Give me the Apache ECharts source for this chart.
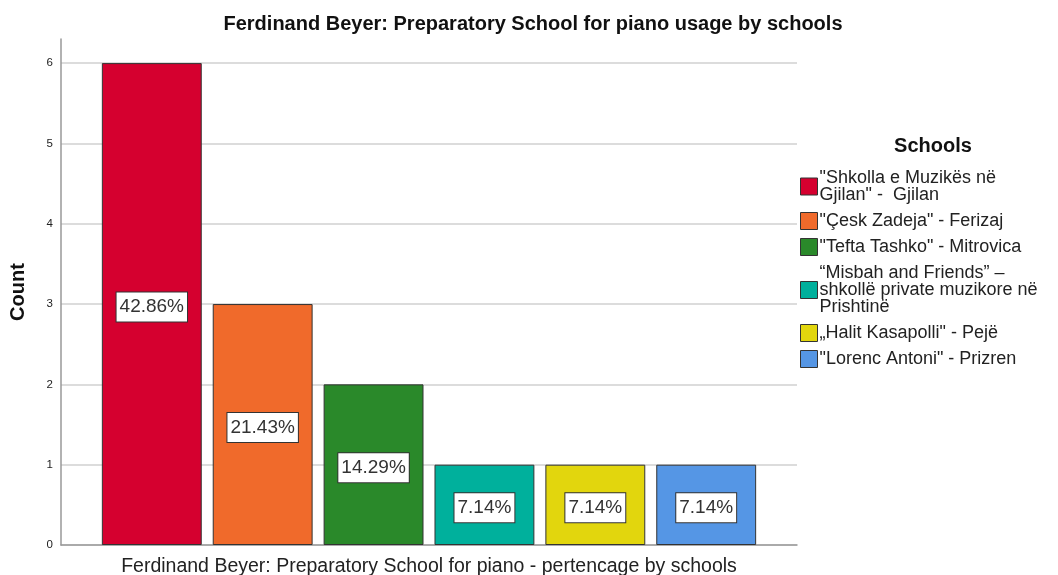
<!DOCTYPE html>
<html>
<head>
<meta charset="utf-8">
<script src="https://cdn.jsdelivr.net/npm/echarts@6/dist/echarts.min.js"></script>
<style>
  html, body { margin: 0; padding: 0; background: #fff; }
  #chart { width: 1058px; height: 575px; }
</style>
</head>
<body>
<div id="chart"></div>
<script>
// data
const schools = [
  '"Shkolla e Muzikës në\nGjilan" -  Gjilan',
  '"Çesk Zadeja" - Ferizaj',
  '"Tefta Tashko" - Mitrovica',
  '“Misbah and Friends” –\nshkollë private muzikore në\nPrishtinë',
  '„Halit Kasapolli" - Pejë',
  '"Lorenc Antoni" - Prizren'
];
const counts = [6, 3, 2, 1, 1, 1];
const colors = ['#D5002F', '#F06A2B', '#2A892A', '#00B09C', '#E2D60D', '#5596E5'];
const yTicks = [0, 1, 2, 3, 4, 5, 6];

const total = counts.reduce((a, b) => a + b, 0);
const font = 'Liberation Sans, Arial, sans-serif';

const chart = echarts.init(document.getElementById('chart'));

const series = schools.map((name, i) => ({
  name: name,
  type: 'bar',
  data: [counts[i]],
  barGap: '11%',
  barCategoryGap: '11.1%',
  itemStyle: { color: colors[i], borderColor: '#333', borderWidth: 1 },
  label: {
    show: true,
    position: 'inside',
    offset: [0, 3],
    formatter: (p) => (p.value / total * 100).toFixed(2) + '%',
    backgroundColor: '#fff',
    borderColor: '#333',
    borderWidth: 1,
    padding: [6, 3, 4, 3],
    color: '#333',
    fontSize: 19,
    fontFamily: font
  }
}));

const option = {
  animation: false,
  title: [
    {
      text: 'Ferdinand Beyer: Preparatory School for piano usage by schools',
      left: 528, top: 9, textAlign: 'center',
      textStyle: { fontSize: 20, fontWeight: 'bold', color: '#111', fontFamily: font }
    },
    {
      text: 'Schools',
      left: 928, top: 131, textAlign: 'center',
      textStyle: { fontSize: 20, fontWeight: 'bold', color: '#111', fontFamily: font }
    }
  ],
  legend: {
    orient: 'vertical',
    left: 795, top: 164,
    itemWidth: 17, itemHeight: 17,
    itemGap: 8,
    icon: 'rect',
    data: schools,
    itemStyle: { borderColor: '#333', borderWidth: 1 },
    textStyle: { fontSize: 18, color: '#222', fontFamily: font, lineHeight: 17, padding: [0, 0, 0, -3] }
  },
  grid: { left: 61, right: 261, top: 39, bottom: 30, outerBoundsMode: 'none' },
  xAxis: {
    type: 'category',
    data: [''],
    name: 'Ferdinand Beyer: Preparatory School for piano - pertencage by schools',
    nameLocation: 'middle',
    nameGap: 12,
    nameTextStyle: { fontSize: 19.5, color: '#222', fontFamily: font },
    axisLine: { lineStyle: { color: '#999', width: 1.5 } },
    axisTick: { show: false },
    axisLabel: { show: false }
  },
  yAxis: {
    type: 'value',
    min: 0, max: 6.3, interval: 1,
    name: 'Count',
    nameLocation: 'middle',
    nameGap: 33,
    nameTextStyle: { fontSize: 20, fontWeight: 'bold', color: '#111', fontFamily: font },
    axisLine: { show: true, lineStyle: { color: '#999', width: 1.5 } },
    axisTick: { show: false },
    axisLabel: {
      margin: 8, fontSize: 11.5, color: '#222', fontFamily: font,
      showMaxLabel: false,
      formatter: (v) => (yTicks.indexOf(v) >= 0 ? String(v) : '')
    },
    splitLine: { showMaxLine: false, lineStyle: { color: '#d0d0d0', width: 1.5 } }
  },
  series: series
};

chart.setOption(option);
</script>
</body>
</html>
